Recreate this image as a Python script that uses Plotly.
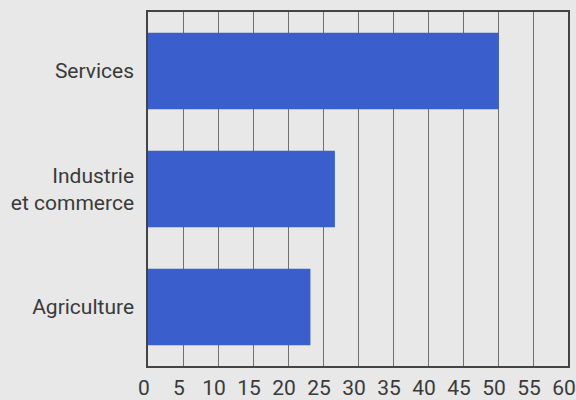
import plotly.graph_objects as go

# Répartition de l'emploi par secteur (%)
categories = ["Agriculture", "Industrie<br>et commerce", "Services"]
values = [23.2, 26.7, 50.1]
tick_vals = list(range(0, 61, 5))

bar_color = "#3a5fcd"
bg_color = "#e7e8e7"
text_color = "#3a3a3a"
font_family = "Roboto, Liberation Sans, sans-serif"

fig = go.Figure(
    go.Bar(
        x=values,
        y=categories,
        orientation="h",
        width=0.65,
        marker=dict(color=bar_color, line=dict(width=0)),
    )
)

fig.update_layout(
    width=576,
    height=400,
    margin=dict(l=148, r=8, t=12, b=34),
    paper_bgcolor=bg_color,
    plot_bgcolor=bg_color,
    showlegend=False,
    bargap=0.35,
    font=dict(family=font_family, color=text_color, size=21),
)

fig.update_xaxes(
    range=[0, 60],
    tickvals=tick_vals,
    ticktext=[str(v) for v in tick_vals],
    automargin=False,
    showgrid=True,
    gridcolor="#707070",
    gridwidth=1,
    zeroline=False,
    showline=True,
    linecolor="#444444",
    linewidth=1.5,
    mirror=True,
    ticks="",
    ticklabelshift=-4,
    ticklabelstandoff=2,
    ticklabeloverflow="allow",
    tickfont=dict(size=21, family=font_family, color=text_color),
)

fig.update_yaxes(
    range=[-0.5, 2.5],
    automargin=False,
    showgrid=False,
    zeroline=False,
    showline=True,
    linecolor="#444444",
    linewidth=1.5,
    mirror=True,
    ticks="",
    ticklabelstandoff=8,
    tickfont=dict(size=21, family=font_family, color=text_color),
)

fig.write_html("out.html")
